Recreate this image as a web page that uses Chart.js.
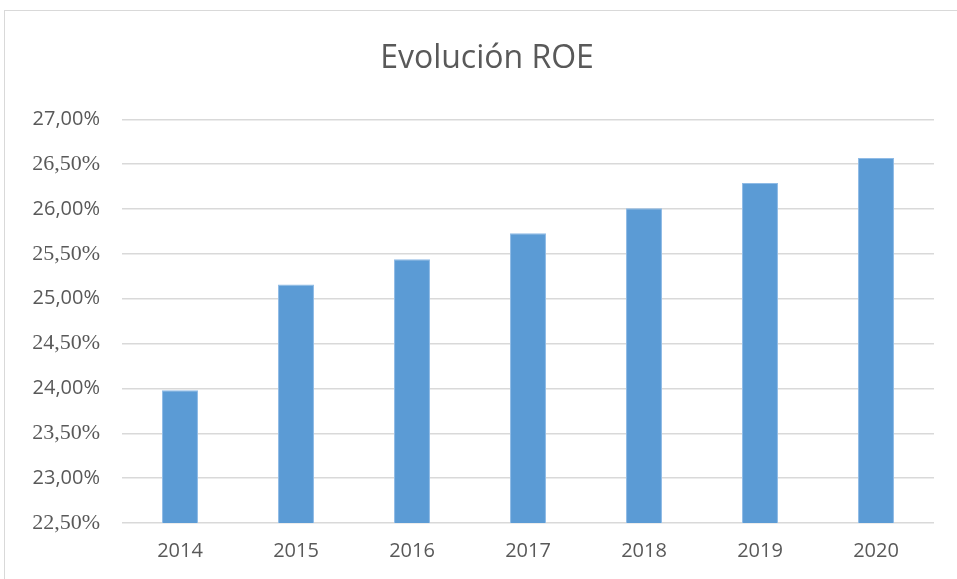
<!DOCTYPE html>
<html>
<head>
<meta charset="utf-8">
<script src="https://cdn.jsdelivr.net/npm/chart.js@4.4.0/dist/chart.umd.min.js"></script>
<style>
  html, body { margin: 0; padding: 0; background: #fff; }
  body { width: 957px; height: 579px; position: relative; overflow: hidden; }
  #frame { position: absolute; left: 4px; top: 10px; width: 990px; height: 600px; border: 1px solid #d9d9d9; box-sizing: border-box; }
  #wrap { position: absolute; left: 0; top: 0; width: 974px; height: 579px; }
</style>
</head>
<body>
<div id="frame"></div>
<div id="wrap"><canvas id="c" width="974" height="579"></canvas></div>
<script>
const titleText = 'Evolución ROE';
const categories = ['2014', '2015', '2016', '2017', '2018', '2019', '2020'];
const roeValues = [23.98, 25.16, 25.44, 25.73, 26.01, 26.29, 26.57];
const yTickValues = [22.5, 23.0, 23.5, 24.0, 24.5, 25.0, 25.5, 26.0, 26.5, 27.0];

const fmt = v => v.toFixed(2).replace('.', ',') + '%';

new Chart(document.getElementById('c'), {
  type: 'bar',
  data: {
    labels: categories,
    datasets: [{
      label: 'ROE',
      data: roeValues,
      backgroundColor: '#5b9bd5',
      borderColor: '#8fbbe6',
      borderWidth: { left: 1, right: 1, top: 1, bottom: 0 },
      categoryPercentage: 1.0,
      barPercentage: 0.31,
      yAxisID: 'y'
    }]
  },
  options: {
    responsive: false,
    animation: false,
    layout: { padding: 0 },
    plugins: {
      legend: { display: false },
      tooltip: { enabled: false },
      title: {
        display: true,
        text: titleText,
        color: '#595959',
        font: { family: 'Open Sans', size: 32, weight: 'normal' },
        padding: { top: 40, bottom: 41 }
      }
    },
    scales: {
      x: {
        grid: { display: false, drawTicks: false },
        border: { display: false },
        ticks: {
          color: '#595959',
          font: { family: 'Open Sans', size: 20 },
          padding: 16,
          maxRotation: 0
        },
        afterFit: s => { s.height = 56; }
      },
      y: {
        min: 22.5,
        max: 27.0,
        afterBuildTicks: s => { s.ticks = yTickValues.map(v => ({ value: v })); },
        grid: { color: '#d9d9d9', lineWidth: 1.5, drawTicks: false },
        border: { display: false },
        ticks: {
          padding: 22,
          color: '#595959',
          callback: v => fmt(v),
          font: ctx => ((ctx.index % 2) === 0
            ? { family: 'Liberation Serif', size: 22 }
            : { family: 'Open Sans', size: 20 })
        },
        afterFit: s => { s.width = 122; }
      },
      yRight: {
        position: 'right',
        display: true,
        min: 22.5,
        max: 27.0,
        grid: { display: false, drawTicks: false },
        border: { display: false },
        ticks: { display: false },
        afterFit: s => { s.width = 40; }
      }
    }
  }
});
</script>
</body>
</html>
